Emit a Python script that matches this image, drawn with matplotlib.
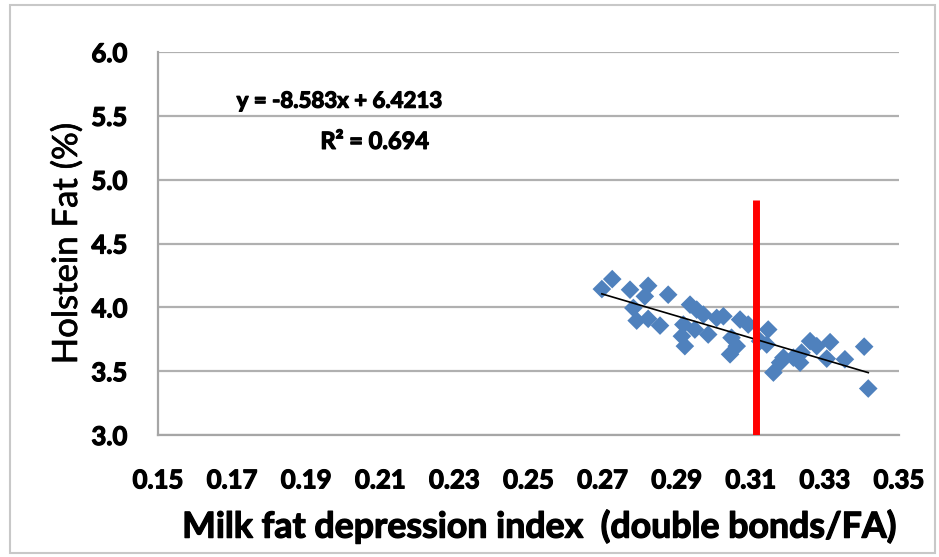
import numpy as np
import matplotlib.pyplot as plt
import matplotlib.patheffects as pe
from matplotlib.patches import Rectangle

# milk fat depression index vs Holstein fat %
mfd_index = [0.2698, 0.2726, 0.2774, 0.2823, 0.2814, 0.2877, 0.2783, 0.2792,
             0.2823, 0.2855, 0.2936, 0.2954, 0.2972, 0.2918, 0.2949, 0.2985,
             0.2914, 0.2922, 0.3008, 0.3026, 0.3071, 0.3093, 0.3048, 0.3062,
             0.3044, 0.3147, 0.3143, 0.3161, 0.3179, 0.3215, 0.3237, 0.3260,
             0.3278, 0.3314, 0.3305, 0.3354, 0.3406, 0.3417, 0.3125, 0.3233,
             0.3188]
fat_pct = [4.143, 4.221, 4.138, 4.169, 4.086, 4.099, 3.995, 3.896,
           3.910, 3.857, 4.021, 3.982, 3.943, 3.865, 3.826, 3.787,
           3.774, 3.696, 3.917, 3.930, 3.904, 3.865, 3.762, 3.696,
           3.632, 3.826, 3.709, 3.489, 3.567, 3.606, 3.645, 3.735,
           3.696, 3.727, 3.598, 3.593, 3.692, 3.364, 3.735, 3.567,
           3.606]

slope, intercept = -8.583, 6.4213
r2 = 0.694
cutoff = 0.3115
cutoff_top = 4.84

xticks = [0.15, 0.17, 0.19, 0.21, 0.23, 0.25, 0.27, 0.29, 0.31, 0.33, 0.35]
yticks = [3.0, 3.5, 4.0, 4.5, 5.0, 5.5, 6.0]

plt.rcParams['font.family'] = ['Lato', 'DejaVu Sans']
thick = [pe.withStroke(linewidth=0.9, foreground='black')]

fig = plt.figure(figsize=(9.39, 5.57), dpi=100)
ax = fig.add_axes([158/939, 1-435/557, (899-158)/939, (435-52)/557])

ax.scatter(mfd_index, fat_pct, marker='D', s=90, color='#4F81BD',
           edgecolors='none', zorder=3)

xl = np.array([min(mfd_index), max(mfd_index)])
ax.plot(xl, slope*xl + intercept, color='black', lw=1.2, zorder=4)

ax.plot([cutoff, cutoff], [3.0, cutoff_top], color='#FF0000', lw=5, zorder=5,
        solid_capstyle='butt')

ax.set_xlim(0.15, 0.35)
ax.set_ylim(3.0, 6.0)
ax.set_xticks(xticks)
ax.set_xticklabels([f"{t:.2f}" for t in xticks])
ax.set_yticks(yticks)
ax.set_yticklabels([f"{t:.1f}" for t in yticks])
ax.tick_params(axis='both', length=0, labelsize=18.5)
ax.tick_params(axis='x', pad=24)
ax.tick_params(axis='y', pad=22)
for lab in ax.get_xticklabels() + ax.get_yticklabels():
    lab.set_fontweight('bold')
    lab.set_path_effects(thick)

ax.grid(axis='y', color='#b0b0b0', lw=1.6)
ax.set_axisbelow(True)
for s in ['top', 'right']:
    ax.spines[s].set_visible(False)
for s in ['left', 'bottom']:
    ax.spines[s].set_color('#a6a6a6')
    ax.spines[s].set_linewidth(1.6)

ax.set_xlabel("Milk fat depression index  (double bonds/FA)", fontsize=25.7,
              fontweight='bold', labelpad=12, path_effects=thick)
ax.xaxis.label.set_x(0.513)
ax.set_ylabel("Holstein Fat (%)", fontsize=25, labelpad=6,
              path_effects=[pe.withStroke(linewidth=0.5, foreground='black')])

ax.text(0.199, 5.615, f"y = {slope}x + {intercept}", fontsize=16,
        fontweight='bold', ha='center', va='center', path_effects=thick)
ax.text(0.2085, 5.30, f"R² = {r2}", fontsize=17, fontweight='bold',
        ha='center', va='center', path_effects=thick)

# light frame round the whole chart
fig.patches.append(Rectangle((10/939, 4/557), 925/939, 548/557,
                             transform=fig.transFigure, fill=False,
                             edgecolor='#c8c8c8', lw=1.5))

fig.savefig("out.png", dpi=100)
